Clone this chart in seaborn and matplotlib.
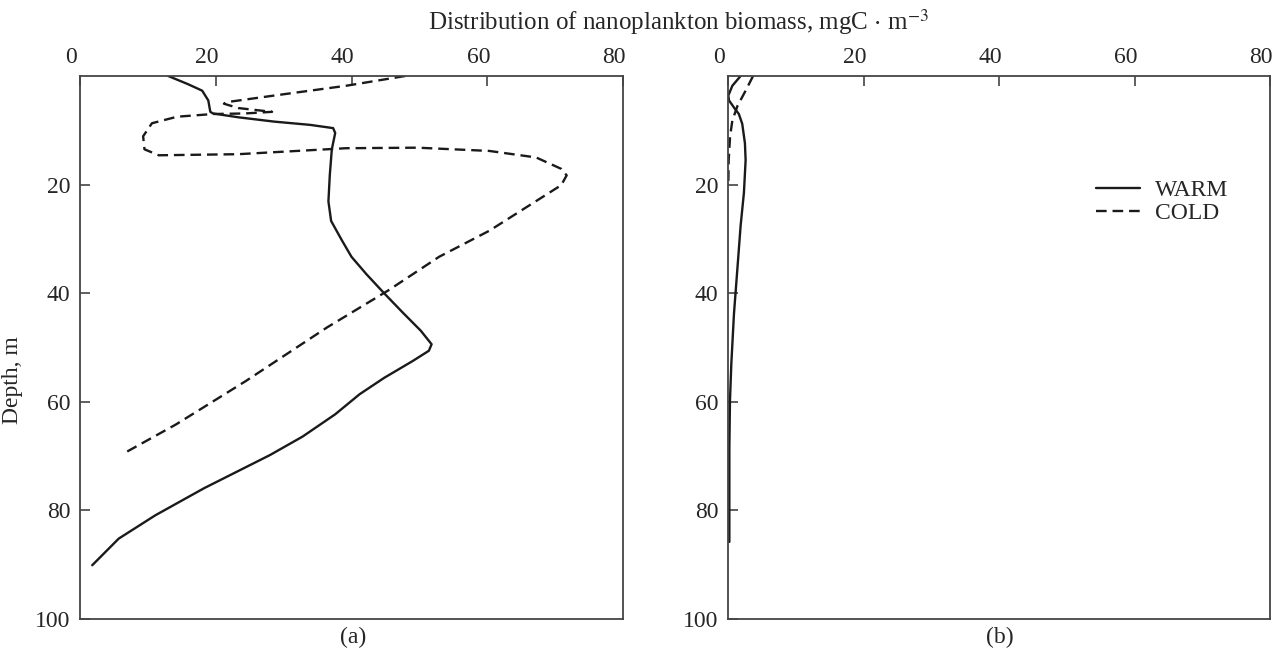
import numpy as np
import matplotlib.pyplot as plt
import matplotlib.transforms as mtransforms
import seaborn as sns
import pandas as pd

# panel (a) (mgC m^-3 vs depth, m)
warm_a_depth = [0, 1.5, 2.7, 4.5, 6.6, 6.9, 7.6, 8.4, 9.0, 9.6, 10.5, 13.5, 18.3, 23.1,
                26.7, 30.3, 33.3, 36.5, 40, 43.5, 46.9, 49.4, 50.6, 52.5, 55.6, 58.6,
                62.3, 66.4, 69.8, 75.9, 80.9, 85.2, 90.1]
warm_a_biomass = [13.0, 15.9, 18.0, 18.9, 19.2, 19.6, 23.3, 28.6, 33.9, 37.3, 37.6, 37.1,
                  36.8, 36.6, 37.0, 38.6, 40.0, 42.2, 44.8, 47.5, 50.2, 51.8, 51.4, 49.0,
                  44.8, 41.2, 37.6, 32.8, 28.0, 18.3, 11.1, 5.7, 1.8]
cold_a_depth = [0, 1.8, 3.6, 4.8, 5.1, 5.9, 6.6, 6.9, 7.0, 7.5, 8.7, 11.1, 13.5, 14.6,
                14.4, 13.3, 13.2, 13.8, 15.0, 17.1, 18.3, 20.1, 24.3, 28.5, 33.3, 39.5,
                46.3, 56.2, 64.2, 69.4]
cold_a_biomass = [47.9, 39.2, 28.6, 21.7, 21.2, 23.3, 28.3, 24.3, 19.6, 14.3, 10.6, 9.3,
                  9.5, 11.6, 23.3, 39.2, 49.7, 60.3, 67.2, 70.9, 71.7, 70.9, 65.6, 60.3,
                  52.9, 45.4, 36.4, 24.4, 14.1, 6.6]

# panel (b)
warm_b_depth = [0, 1.8, 3.6, 4.5, 5.8, 7.0, 8.8, 12.4, 15.5, 21.5, 27.6, 33.6, 43.8,
                53, 59.9, 68.5, 85.8]
warm_b_biomass = [1.86, 0.64, 0.05, 0.15, 0.88, 1.6, 2.1, 2.5, 2.6, 2.35, 1.86, 1.5,
                  0.88, 0.49, 0.29, 0.2, 0.2]
cold_b_depth = [0, 2.7, 5.5, 8.2, 11.2, 15.5, 19.7]
cold_b_biomass = [3.7, 2.6, 1.4, 0.64, 0.3, 0.1, 0.05]

seasons = ["WARM", "COLD"]
yticks = [20, 40, 60, 80, 100]
xticks = [0, 20, 40, 60, 80]


def make_frame(warm_x, warm_y, cold_x, cold_y):
    return pd.DataFrame({
        "biomass": list(warm_x) + list(cold_x),
        "depth": list(warm_y) + list(cold_y),
        "season": ["WARM"] * len(warm_x) + ["COLD"] * len(cold_x),
    })


sns.set_style("ticks")
plt.rcParams['font.family'] = ['Liberation Serif', 'DejaVu Serif']
plt.rcParams['mathtext.fontset'] = 'stix'

fig = plt.figure(figsize=(12.73, 6.54), dpi=100)
ax_a = fig.add_axes([80 / 1273, 1 - 619 / 654, 543 / 1273, 543 / 654])
ax_b = fig.add_axes([728 / 1273, 1 - 619 / 654, 542 / 1273, 543 / 654])

frames = [make_frame(warm_a_biomass, warm_a_depth, cold_a_biomass, cold_a_depth),
          make_frame(warm_b_biomass, warm_b_depth, cold_b_biomass, cold_b_depth)]

for ax, df, show_leg in zip([ax_a, ax_b], frames, [False, True]):
    sns.lineplot(data=df, x="biomass", y="depth", style="season", style_order=seasons,
                 dashes={"WARM": "", "COLD": (4.5, 2.5)}, color="#1a1a1a", lw=1.7,
                 sort=False, estimator=None, legend=show_leg, ax=ax)
    ax.set_xlim(0, 80)
    ax.set_ylim(100, 0)
    ax.set_xticks(xticks)
    ax.set_yticks(yticks)
    ax.xaxis.tick_top()
    ax.tick_params(direction="in", length=7, width=1.2, color="#444444",
                   labelsize=17, pad=7)
    ax.tick_params(axis="x", pad=6)
    for sp in ax.spines.values():
        sp.set_visible(True)
        sp.set_color("#444444")
        sp.set_linewidth(1.3)
    ax.set_xlabel("")
    ax.set_ylabel("")
    # tick labels in the original sit a little left of their ticks
    offset = mtransforms.ScaledTranslation(-9 / 100, 0, fig.dpi_scale_trans)
    for lab in ax.get_xticklabels():
        lab.set_transform(lab.get_transform() + offset)

ax_a.set_ylabel("Depth, m", fontsize=17)
ax_a.yaxis.set_label_coords(-0.105, 0.44)

leg = ax_b.legend(loc="upper left", bbox_to_anchor=(0.64, 0.848), frameon=False,
                  fontsize=17, handlelength=1.86, handletextpad=0.64, labelspacing=0.05)

fig.text(0.533, 1 - 22 / 654, r"Distribution of nanoplankton biomass, mgC $\cdot$ m$^{-3}$",
         ha="center", va="center", fontsize=18)
fig.text(353 / 1273, 1 - 637 / 654, "(a)", ha="center", va="center", fontsize=17)
fig.text(1000 / 1273, 1 - 637 / 654, "(b)", ha="center", va="center", fontsize=17)

plt.savefig("out.png", dpi=100)
